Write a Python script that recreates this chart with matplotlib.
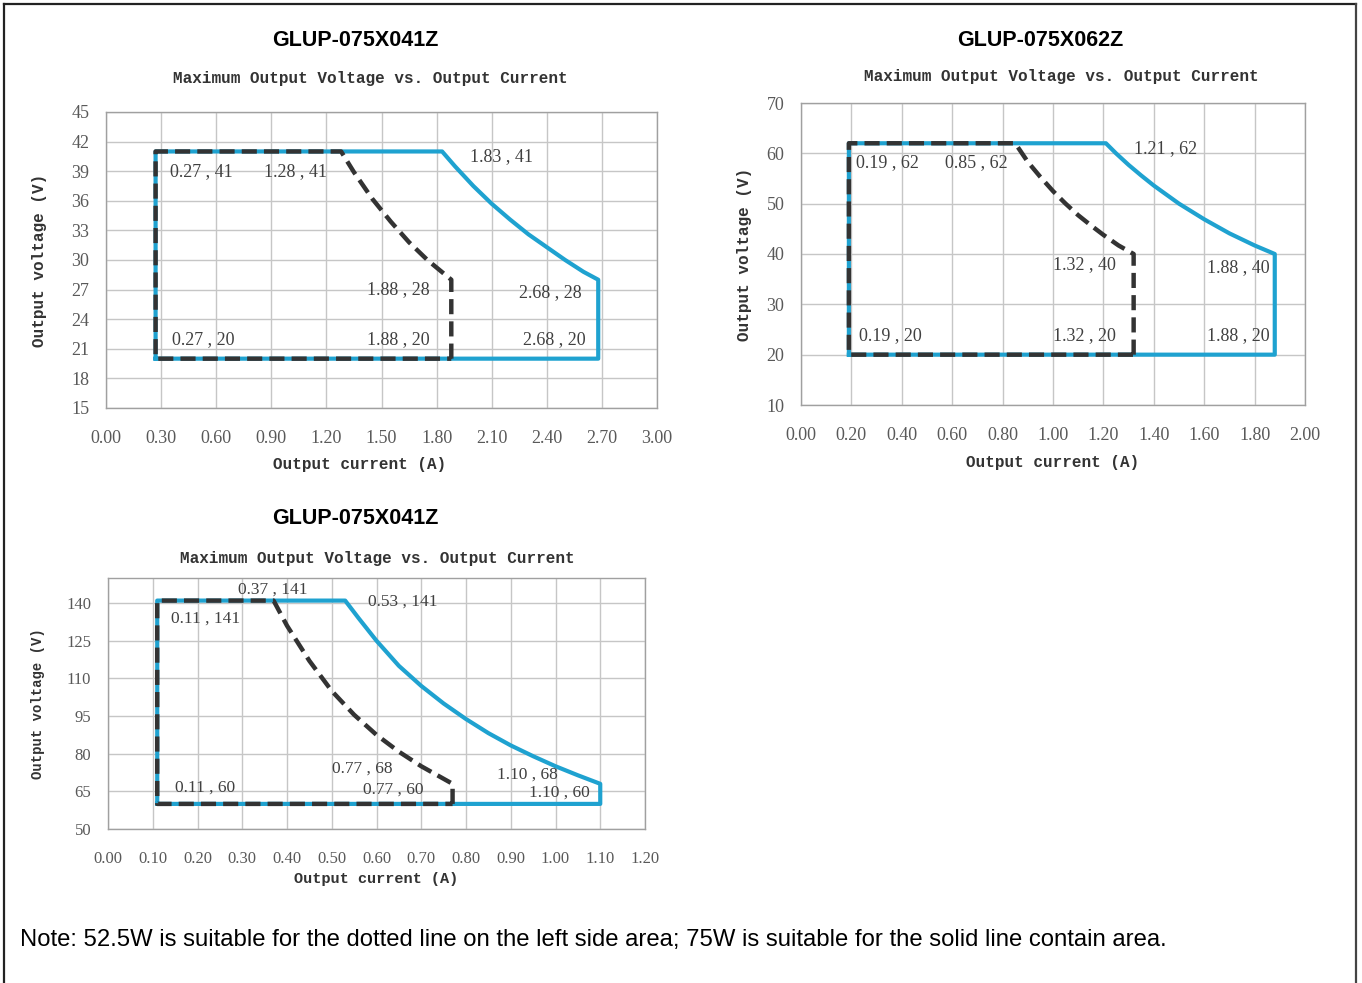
import matplotlib.pyplot as plt
from matplotlib.lines import Line2D

W, H = 1362, 983

# ---- chart 1 : GLUP-075X041Z (upper left) ----
c1_solid_i = [0.27, 0.27, 1.83, 1.90, 2.00, 2.10, 2.20, 2.30, 2.40, 2.50, 2.60, 2.68, 2.68, 0.27]
c1_solid_v = [20, 41, 41, 39.5, 37.5, 35.7, 34.1, 32.6, 31.3, 30.0, 28.8, 28, 20, 20]
c1_dash_i = [1.88, 1.88, 1.75, 1.65, 1.55, 1.45, 1.35, 1.28, 0.27, 0.27, 1.88]
c1_dash_v = [20, 28, 30.0, 31.8, 33.9, 36.2, 38.9, 41, 41, 20, 20]
c1_labels = ["0.27 , 41", "1.28 , 41", "1.83 , 41", "1.88 , 28",
             "2.68 , 28", "0.27 , 20", "1.88 , 20", "2.68 , 20"]
c1_label_pos = [(0.35, 39.0), (0.86, 39.0), (1.98, 40.5), (1.42, 27.0),
                (2.25, 26.7), (0.36, 21.9), (1.42, 21.9), (2.27, 21.9)]

# ---- chart 2 : GLUP-075X062Z (upper right) ----
c2_solid_i = [0.19, 0.19, 1.21, 1.25, 1.30, 1.35, 1.40, 1.50, 1.60, 1.70, 1.80, 1.88, 1.88, 0.19]
c2_solid_v = [20, 62, 62, 60.0, 57.7, 55.6, 53.6, 50.0, 46.9, 44.1, 41.7, 40, 20, 20]
c2_dash_i = [1.32, 1.32, 1.26, 1.20, 1.15, 1.10, 1.05, 1.00, 0.95, 0.90, 0.85, 0.19, 0.19, 1.32]
c2_dash_v = [20, 40, 41.7, 43.8, 45.7, 47.7, 50.0, 52.5, 55.3, 58.3, 62, 62, 20, 20]
c2_labels = ["0.19 , 62", "0.85 , 62", "1.21 , 62", "1.32 , 40",
             "1.88 , 40", "0.19 , 20", "1.32 , 20", "1.88 , 20"]
c2_label_pos = [(0.22, 58.1), (0.57, 58.1), (1.32, 61.0), (1.00, 37.8),
                (1.61, 37.2), (0.23, 23.7), (1.00, 23.7), (1.61, 23.7)]

# ---- chart 3 : GLUP-075X041Z (lower left) ----
c3_solid_i = [0.11, 0.11, 0.53, 0.56, 0.60, 0.65, 0.70, 0.75, 0.80, 0.85, 0.90, 0.95, 1.00, 1.05, 1.10, 1.10, 0.11]
c3_solid_v = [60, 141, 141, 134, 125, 115, 107, 100, 93.8, 88.2, 83.3, 79, 75, 71.4, 68, 60, 60]
c3_dash_i = [0.77, 0.77, 0.70, 0.65, 0.60, 0.55, 0.50, 0.45, 0.40, 0.37, 0.11, 0.11, 0.77]
c3_dash_v = [60, 68, 75, 80.8, 87.5, 95.5, 105, 117, 131, 141, 141, 60, 60]
c3_labels = ["0.37 , 141", "0.53 , 141", "0.11 , 141", "0.77 , 68",
             "1.10 , 68", "0.11 , 60", "0.77 , 60", "1.10 , 60"]
c3_label_pos = [(0.29, 145.2), (0.58, 140.4), (0.14, 134.0), (0.50, 73.9),
                (0.87, 71.5), (0.15, 66.3), (0.57, 65.5), (0.94, 64.3)]

titles = ["GLUP-075X041Z", "GLUP-075X062Z", "GLUP-075X041Z"]
subtitle = "Maximum Output Voltage vs. Output Current"
note = ("Note: 52.5W is suitable for the dotted line on the left side area; "
        "75W is suitable for the solid line contain area.")

BLUE = "#1FA2D0"
DARK = "#333333"
TICK = "#595959"
SERIF = "Liberation Serif"
MONO = "Liberation Mono"


def px_box(l, t, r, b):
    return [l / W, 1 - b / H, (r - l) / W, (b - t) / H]


def draw(ax, si, sv, di, dv, labels, pos, xlim, xstep, ylim, ystep,
         tick_fs, ann_fs, lab_fs, ylab_fs, xlab_x, ylab_x):
    ax.plot(si, sv, color=BLUE, lw=3.0, solid_joinstyle="round", zorder=3)
    ax.plot(di, dv, color=DARK, lw=3.2, dashes=(3.4, 1.6), zorder=4)
    for t, (x, y) in zip(labels, pos):
        ax.text(x, y, t, fontsize=ann_fs, family=SERIF, color="#404040",
                ha="left", va="center", zorder=5)
    ax.set_xlim(*xlim)
    ax.set_ylim(*ylim)
    n = int(round((xlim[1] - xlim[0]) / xstep))
    ax.set_xticks([xlim[0] + k * xstep for k in range(n + 1)])
    ax.set_xticklabels([f"{xlim[0] + k * xstep:.2f}" for k in range(n + 1)])
    yt = []
    v = ylim[0]
    while v <= ylim[1] + 1e-9:
        yt.append(v)
        v += ystep
    ax.set_yticks(yt)
    ax.set_yticklabels([f"{int(v)}" for v in yt])
    ax.grid(True, color="#C6C6C6", lw=1.0)
    ax.set_axisbelow(True)
    for s in ax.spines.values():
        s.set_color("#A0A0A0")
        s.set_linewidth(1.0)
    ax.tick_params(length=0, labelsize=tick_fs, labelcolor=TICK)
    ax.tick_params(axis="x", pad=16)
    ax.tick_params(axis="y", pad=12)
    for lbl in ax.get_xticklabels() + ax.get_yticklabels():
        lbl.set_family(SERIF)
    ax.set_xlabel("Output current (A)", family=MONO, fontsize=lab_fs,
                  color="#333333", weight="bold")
    ax.set_ylabel("Output voltage (V)", family=MONO, fontsize=ylab_fs,
                  color="#333333", weight="bold")
    ax.xaxis.set_label_coords(xlab_x, -0.165)
    ax.yaxis.set_label_coords(ylab_x, 0.5)


fig = plt.figure(figsize=(W / 100, H / 100), dpi=100)

ax1 = fig.add_axes(px_box(106, 112, 657, 408))
draw(ax1, c1_solid_i, c1_solid_v, c1_dash_i, c1_dash_v, c1_labels, c1_label_pos,
     (0, 3.0), 0.3, (15, 45), 3, 13, 13, 11.5, 11.5, 0.461, -0.107)

ax2 = fig.add_axes(px_box(801, 103, 1305, 405))
draw(ax2, c2_solid_i, c2_solid_v, c2_dash_i, c2_dash_v, c2_labels, c2_label_pos,
     (0, 2.0), 0.2, (10, 70), 10, 13, 13, 11.5, 11.5, 0.5, -0.097)

ax3 = fig.add_axes(px_box(108, 578, 645, 829))
draw(ax3, c3_solid_i, c3_solid_v, c3_dash_i, c3_dash_v, c3_labels, c3_label_pos,
     (0, 1.2), 0.1, (50, 150), 15, 12, 12.5, 11, 10, 0.5, -0.117)
# top edge 150 carries no label
ax3.set_yticks([50, 65, 80, 95, 110, 125, 140])
ax3.set_yticklabels(["50", "65", "80", "95", "110", "125", "140"], family=SERIF)
ax3.xaxis.set_label_coords(0.5, -0.17)

# titles
for t, (x, y) in zip(titles, [(355, 41), (1040, 41), (355, 519)]):
    fig.text(x / W, 1 - y / H, t, ha="center", va="center", fontsize=15.5,
             family="Liberation Sans", weight="bold", color="black")
for x, y in [(370, 79), (1061, 76), (377, 559)]:
    fig.text(x / W, 1 - y / H, subtitle, ha="center", va="center",
             fontsize=11.5, family=MONO, weight="bold", color="#333333")

fig.text(20 / W, 1 - 940 / H, note, ha="left", va="center", fontsize=17.2,
         family="Liberation Sans", color="black")

# outer frame (top, left, right)
fig.add_artist(Line2D([4 / W, 1356 / W], [1 - 4 / H, 1 - 4 / H],
                      transform=fig.transFigure, color="#222222", lw=1.6))
fig.add_artist(Line2D([4 / W, 4 / W], [0, 1 - 4 / H],
                      transform=fig.transFigure, color="#222222", lw=1.6))
fig.add_artist(Line2D([1356 / W, 1356 / W], [0, 1 - 4 / H],
                      transform=fig.transFigure, color="#444444", lw=1.6))

fig.savefig("out.png", dpi=100)
